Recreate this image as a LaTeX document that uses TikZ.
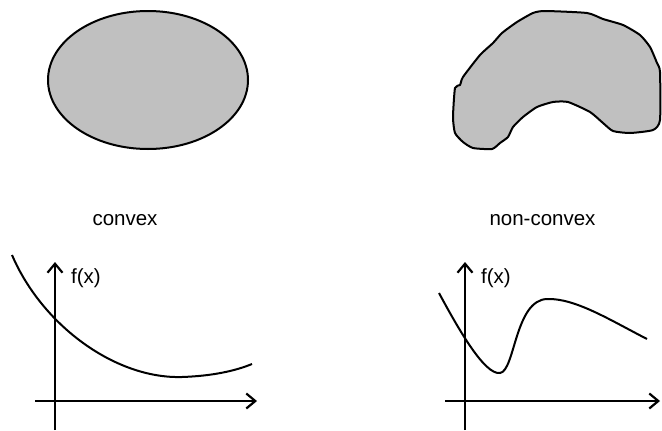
\documentclass[tikz,border=0pt]{standalone}
\usepackage{fontspec}
\setmainfont{Liberation Sans}
\usetikzlibrary{arrows.meta, positioning}
\definecolor{sgray}{RGB}{192,192,192}

\tikzset{
  region/.style={fill=sgray, draw=black, line width=2pt, line join=round},
  axis/.style={line width=2.8pt, -{Straight Barb[length=9pt,width=15pt,line width=2.2pt]}},
  fcurve/.style={line width=2pt},
  lbl/.style={font=\fontsize{20.5}{24}\selectfont, inner sep=0pt}
}

\begin{document}
\begin{tikzpicture}[x=1pt, y=-1pt]
  \useasboundingbox (0,0) rectangle (662,431);

  % Sets
  \draw[region] (148,80) ellipse (100 and 69);
  \draw[region] plot[smooth cycle, tension=0.35] coordinates {
    (545,11) (587,13) (603,19) (623,25) (640,35) (650,47) (657,63) (660,72)
    (660,120) (653,130) (630,133) (613,131) (603,123) (590,112) (568,102)
    (553,102) (537,107) (523,117) (513,127) (508,137) (500,143) (492,149)
    (473,148) (463,142) (455,133) (453,117) (455,88) (460,85) (463,77)
    (480,55) (493,43) (502,33) (517,22) (533,13)};
  \node[lbl, anchor=base] (convex) at (125,225) {convex};
  \node[lbl, anchor=base] (nonconvex) at (542.5,225) {non-convex};

  % Axes
  \foreach \n/\ox/\xe in {L/55/257, R/465/660}{
    \coordinate (yb\n) at (\ox,430);
    \coordinate (yt\n) at (\ox,262);
    \coordinate (xl\n) at (\ox-20,401);
    \coordinate (xr\n) at (\xe,401);
    \draw[axis] (yb\n) -- (yt\n);
    \draw[axis] (xl\n) -- (xr\n);
    \node[lbl, anchor=base west] (f\n) at (\ox+16,283) {f(x)};
  }

  % Functions
  \draw[fcurve] (12,255) .. controls (42,325) and (115,379) .. (182,377)
    .. controls (212,376) and (235,371) .. (252,364);
  \draw[fcurve] (439,293) .. controls (460,332) and (485,375) .. (500,373)
    .. controls (515,371) and (515,300) .. (547,299)
    .. controls (575,298) and (610,320) .. (647,339);
\end{tikzpicture}
\end{document}
